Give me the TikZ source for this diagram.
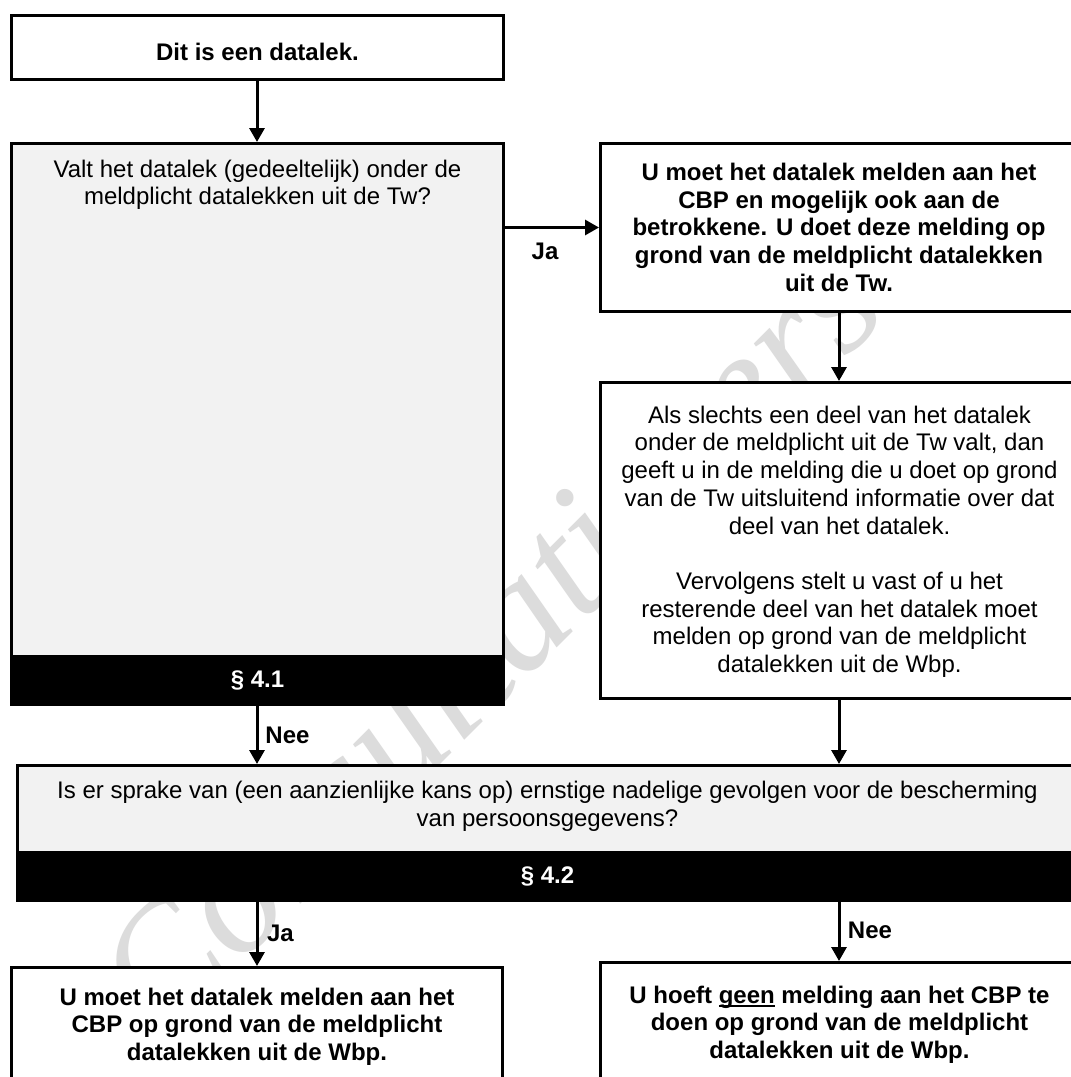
\documentclass[tikz,border=0pt]{standalone}
\usepackage{fontspec}
\setmainfont{Liberation Sans}
\newfontfamily\wmfont{Liberation Serif}
\usetikzlibrary{arrows.meta}
\definecolor{boxgray}{HTML}{F2F2F2}
\definecolor{wmgray}{HTML}{DCDCDC}
\newsavebox\ulbox
\newcommand\myul[1]{\sbox\ulbox{#1}\rlap{\rule[-3.6bp]{\wd\ulbox}{1.8bp}}\usebox\ulbox}
\begin{document}
\begin{tikzpicture}[x=1bp,y=-1bp,
  box/.style={draw=black, line width=3bp, fill=white, inner sep=0pt, anchor=north west},
  graybox/.style={box, fill=boxgray},
  band/.style={box, fill=black, text=white, font=\fontsize{24.09pt}{27.8pt}\selectfont\bfseries},
  txt/.style={align=center, inner sep=0pt, anchor=base, font=\fontsize{24.09pt}{27.8pt}\selectfont},
  btxt/.style={txt, font=\fontsize{24.09pt}{27.8pt}\selectfont\bfseries},
  lbl/.style={inner sep=0pt, anchor=base, font=\fontsize{24.09pt}{27.8pt}\selectfont\bfseries},
  arr/.style={draw=black, line width=3bp, -{Triangle[length=14bp,width=15bp]}},
  wm/.style={rotate=45, anchor=base, inner sep=0pt, text=wmgray, font=\wmfont\itshape\fontsize{165pt}{170pt}\selectfont}
]
\useasboundingbox (0,0) rectangle (1071,1077);
\clip (0,0) rectangle (1071,1077);
\fill[white] (0,0) rectangle (1071,1077);

% watermark
\node[wm] (wm) at (568,637) {Consultatieversie};

\coordinate (colL) at (257,0);
\coordinate (colR) at (839,0);

% boxes
\node[box, minimum width=492bp, minimum height=64bp] (start) at (10,14) {};
\node[graybox, minimum width=492bp, minimum height=561bp] (q1) at (10,142) {};
\node[band, minimum width=492bp, minimum height=48bp] (band1) at (10,655) {\S\ 4.1};
\node[box, minimum width=483bp, minimum height=168bp] (r1) at (599,142) {};
\node[box, minimum width=483bp, minimum height=316bp] (r2) at (599,381) {};
\node[graybox, minimum width=1060bp, minimum height=135bp] (q2) at (16,764) {};
\node[band, minimum width=1060bp, minimum height=48bp] (band2) at (16,851) {\S\ 4.2};
\node[box, minimum width=491bp, minimum height=131bp] (yes) at (10,966) {};
\node[box, minimum width=483bp, minimum height=136bp] (no) at (599,961) {};

% texts (anchor = baseline of the last line)
\node[btxt] (t0) at (257.5,60) {Dit is een datalek.};
\node[txt] (t1) at (257.5,204.8) {Valt het datalek (gedeeltelijk) onder de\\meldplicht datalekken uit de Tw?};
\node[btxt] (t2) at (839,291.2) {U moet het datalek melden aan het\\CBP en mogelijk ook aan de\\betrokkene. U doet deze melding op\\grond van de meldplicht datalekken\\uit de Tw.};
\node[txt] (t3) at (839.5,672.5) {Als slechts een deel van het datalek\\onder de meldplicht uit de Tw valt, dan\\geeft u in de melding die u doet op grond\\van de Tw uitsluitend informatie over dat\\deel van het datalek.\\[27.8pt]Vervolgens stelt u vast of u het\\resterende deel van het datalek moet\\melden op grond van de meldplicht\\datalekken uit de Wbp.};
\node[txt] (t4) at (547.5,826.5) {Is er sprake van (een aanzienlijke kans op) ernstige nadelige gevolgen voor de bescherming\\van persoonsgegevens?};
\node[btxt] (t5) at (257,1060.5) {U moet het datalek melden aan het\\CBP op grond van de meldplicht\\datalekken uit de Wbp.};
\node[btxt] (t6) at (839.5,1058.5) {U hoeft \myul{geen} melding aan het CBP te\\doen op grond van de meldplicht\\datalekken uit de Wbp.};

% connectors
\draw[arr] (start.south -| colL) -- (q1.north -| colL);
\draw[arr] (q1.east |- r1.west) -- (r1.west);
\draw[arr] (r1.south -| colR) -- (r2.north -| colR);
\draw[arr] (band1.south -| colL) -- (q2.north -| colL);
\draw[arr] (r2.south -| colR) -- (q2.north -| colR);
\draw[arr] (band2.south -| colL) -- (yes.north -| colL);
\draw[arr] (band2.south -| colR) -- (no.north -| colR);

% connector labels
\node[lbl] (ja1) at (545,259) {Ja};
\node[lbl] (nee1) at (287.5,743) {Nee};
\node[lbl] (ja2) at (280.5,941.5) {Ja};
\node[lbl] (nee2) at (870,938.5) {Nee};
\end{tikzpicture}
\end{document}
